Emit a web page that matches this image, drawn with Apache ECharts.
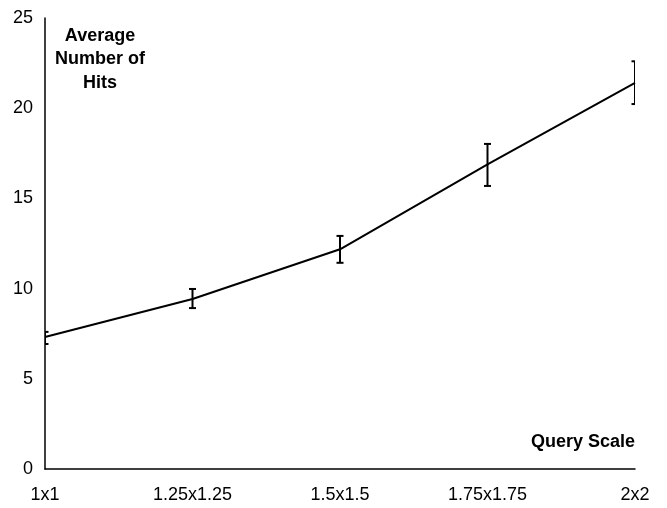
<!DOCTYPE html>
<html>
<head>
<meta charset="utf-8">
<script src="https://cdn.jsdelivr.net/npm/echarts@6/dist/echarts.min.js"></script>
<style>html,body{margin:0;padding:0;background:#fff;}#c{width:667px;height:508px;}</style>
</head>
<body>
<div id="c"></div>
<script>
const categories = ['1x1', '1.25x1.25', '1.5x1.5', '1.75x1.75', '2x2'];
const avgHits = [7.32, 9.42, 12.18, 16.89, 21.41];
const errLow = [6.93, 8.92, 11.43, 15.69, 20.23];
const errHigh = [7.6, 9.98, 12.92, 18.02, 22.6];
const yTicks = [0, 5, 10, 15, 20, 25];

const errData = categories.map((c, i) => [i, errLow[i], errHigh[i]]);
const FONT = '"Liberation Sans", Arial, Helvetica, sans-serif';

const chart = echarts.init(document.getElementById('c'), null, {renderer: 'canvas'});
chart.setOption({
  animation: false,
  backgroundColor: '#fff',
  grid: {left: 45, right: 32, top: 18, bottom: 39, containLabel: false},
  xAxis: {
    type: 'category',
    data: categories,
    boundaryGap: false,
    axisLine: {lineStyle: {color: '#000', width: 1.5}},
    axisTick: {show: false},
    axisLabel: {color: '#000', fontSize: 18, fontFamily: FONT, margin: 17, interval: 0},
    splitLine: {show: false}
  },
  yAxis: {
    type: 'value',
    min: yTicks[0],
    max: yTicks[yTicks.length - 1],
    interval: 5,
    axisLine: {show: true, lineStyle: {color: '#000', width: 1.5}},
    axisTick: {show: false},
    axisLabel: {color: '#000', fontSize: 18, fontFamily: FONT, margin: 12},
    splitLine: {show: false}
  },
  series: [
    {
      type: 'line',
      data: avgHits,
      symbol: 'none',
      lineStyle: {color: '#000', width: 2},
      z: 3
    },
    {
      type: 'custom',
      data: errData,
      clip: true,
      z: 4,
      renderItem: function (params, api) {
        const x = api.value(0);
        const lo = api.coord([x, api.value(1)]);
        const hi = api.coord([x, api.value(2)]);
        const hw = 3.5;
        const st = {stroke: '#000', lineWidth: 2, fill: null};
        return {
          type: 'group',
          children: [
            {type: 'line', shape: {x1: lo[0], y1: lo[1], x2: hi[0], y2: hi[1]}, style: st},
            {type: 'line', shape: {x1: lo[0] - hw, y1: lo[1], x2: lo[0] + hw, y2: lo[1]}, style: st},
            {type: 'line', shape: {x1: hi[0] - hw, y1: hi[1], x2: hi[0] + hw, y2: hi[1]}, style: st}
          ]
        };
      }
    }
  ],
  graphic: [
    {
      type: 'text',
      x: 100, y: 24,
      style: {
        text: 'Average\nNumber of\nHits',
        align: 'center',
        verticalAlign: 'top',
        font: 'bold 18px ' + FONT,
        lineHeight: 23.5,
        fill: '#000'
      }
    },
    {
      type: 'text',
      x: 635, y: 442,
      style: {
        text: 'Query Scale',
        align: 'right',
        verticalAlign: 'middle',
        font: 'bold 18px ' + FONT,
        fill: '#000'
      }
    }
  ]
});
</script>
</body>
</html>
